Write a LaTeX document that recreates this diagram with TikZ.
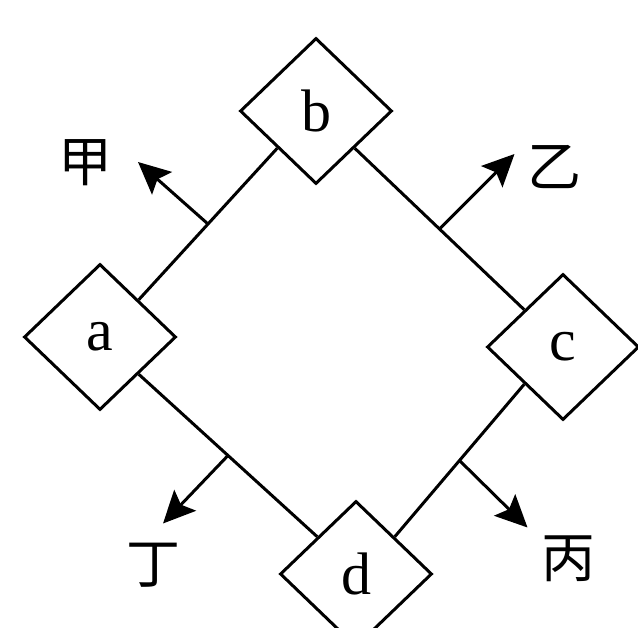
\documentclass[tikz,border=0pt]{standalone}
\usepackage{fontspec}
\setmainfont{Liberation Serif}
\newfontfamily\cjk{Noto Sans CJK SC}
\usetikzlibrary{shapes.geometric, arrows.meta}
\tikzstyle{station} = [diamond, minimum width=152pt, minimum height=146pt, inner sep=0pt, draw=black, line width=3pt, fill=white, font=\fontsize{60}{60}\selectfont]
\tikzstyle{link} = [line width=3pt]
\tikzstyle{arrow} = [line width=3pt, -{Stealth[length=32pt, width=30pt, inset=6pt]}]
\tikzstyle{tag} = [font=\cjk\fontsize{54}{54}\selectfont]

\begin{document}
\begin{tikzpicture}[node distance=230pt]
        \useasboundingbox (0,0) rectangle (638pt,-628pt);
        \node (b) [station] at (316pt,-111pt) {b};
        \node (a) [station, below of=b, xshift=-216pt, yshift=4pt] {a};
        \node (c) [station, below of=b, xshift=247pt, yshift=-6pt] {c};
        \node (d) [station, below of=a, xshift=256pt, yshift=-7pt] {d};
        \draw [link] (b.south west) -- coordinate (ab) (a.north east);
        \draw [link] (b.south east) -- coordinate (bc) (c.north west);
        \draw [link] (c.south west) -- coordinate (cd) (d.north east);
        \draw [link] (a.south east) -- coordinate (ad) (d.north west);
        \draw [arrow] (ab) -- ++(-70pt,62pt) coordinate (jiatip);
        \draw [arrow] (bc) -- ++(75pt,75pt) coordinate (yitip);
        \draw [arrow] (cd) -- ++(68pt,-67pt) coordinate (bingtip);
        \draw [arrow] (ad) -- ++(-65pt,-68pt) coordinate (dingtip);
        \node (jia) [tag] at (85pt,-163pt) {甲};
        \node (yi) [tag] at (554pt,-167pt) {乙};
        \node (bing) [tag] at (568pt,-559pt) {丙};
        \node (ding) [tag] at (153pt,-565pt) {丁};
\end{tikzpicture}
\end{document}
